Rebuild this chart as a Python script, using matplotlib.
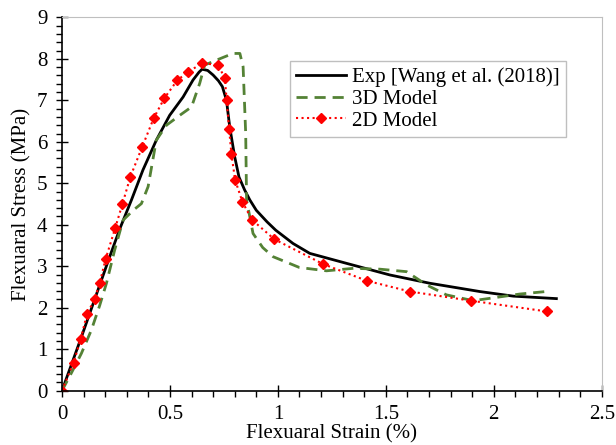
import matplotlib.pyplot as plt
from matplotlib.ticker import MultipleLocator

plt.rcParams["font.family"] = "Liberation Serif"

# Exp [Wang et al. (2018)]
exp_x = [0, 0.087, 0.175, 0.221, 0.27, 0.322, 0.375, 0.437, 0.499, 0.561, 0.607, 0.635, 0.649,
         0.675, 0.70, 0.725, 0.743, 0.762, 0.777, 0.80, 0.82, 0.846, 0.87, 0.90, 0.95, 0.99, 1.07, 1.148, 1.318,
         1.519, 1.704, 1.936, 2.09, 2.29]
exp_y = [0, 1.25, 2.55, 3.23, 3.93, 4.6, 5.32, 6.04, 6.64, 7.08, 7.49, 7.68, 7.75,
         7.72, 7.61, 7.47, 7.33, 7.0, 6.36, 5.64, 5.15, 4.84, 4.6, 4.35, 4.07, 3.87, 3.55, 3.31, 3.07,
         2.79, 2.59, 2.39, 2.28, 2.22]

# 3D Model
m3_x = [0, 0.043, 0.09, 0.136, 0.175, 0.206, 0.244, 0.283, 0.33, 0.368, 0.399,
        0.437, 0.484, 0.546, 0.60, 0.638, 0.661, 0.716, 0.792, 0.824, 0.839,
        0.851, 0.855, 0.885, 0.93, 0.978, 1.10, 1.225, 1.35, 1.472, 1.596, 1.689,
        1.781, 1.905, 2.013, 2.12, 2.26]
m3_y = [0, 0.42, 0.9, 1.46, 2.06, 2.59, 3.39, 4.11, 4.35, 4.51, 4.92,
        6.04, 6.40, 6.64, 6.84, 7.41, 7.85, 7.97, 8.13, 8.13, 7.81,
        6.2, 4.6, 3.79, 3.45, 3.23, 2.97, 2.89, 2.95, 2.93, 2.87, 2.55,
        2.31, 2.17, 2.25, 2.33, 2.40]

# 2D Model
m2_x = [0, 0.054, 0.087, 0.116, 0.152, 0.175, 0.202, 0.247, 0.28, 0.317, 0.371,
        0.425, 0.474, 0.535, 0.584, 0.647, 0.722, 0.754, 0.763, 0.774, 0.785,
        0.802, 0.836, 0.88, 0.984, 1.211, 1.412, 1.613, 1.894, 2.247]
m2_y = [0, 0.68, 1.25, 1.85, 2.21, 2.6, 3.17, 3.93, 4.5, 5.16, 5.87,
        6.57, 7.05, 7.49, 7.68, 7.89, 7.86, 7.54, 7.0, 6.32, 5.70,
        5.08, 4.55, 4.12, 3.65, 3.05, 2.65, 2.39, 2.17, 1.91]

fig = plt.figure(figsize=(6.16, 4.45), dpi=100)
ax = fig.add_axes([0.1006, 0.122, 0.8762, 0.839])

ax.plot(exp_x, exp_y, color="black", linewidth=2, label="Exp [Wang et al. (2018)]")
ax.plot(m3_x, m3_y, color="#548235", linewidth=2, linestyle=(0, (4, 2.5)), label="3D Model")
ax.plot(m2_x, m2_y, color="red", linewidth=1.5, linestyle=":", marker="D",
        markersize=5.5, label="2D Model")

ax.set_xlim(0, 2.5)
ax.set_ylim(0, 9)
ax.xaxis.set_minor_locator(MultipleLocator(0.1))
ax.yaxis.set_major_locator(MultipleLocator(1))
ax.yaxis.set_minor_locator(MultipleLocator(0.2))
ax.set_xticks([0, 0.5, 1, 1.5, 2, 2.5], ["0", "0.5", "1", "1.5", "2", "2.5"])
ax.tick_params(which="major", direction="inout", length=9, width=1, labelsize=15, pad=6)
ax.tick_params(which="minor", direction="out", length=4, width=1)

for s in ["top", "right"]:
    ax.spines[s].set_color("#BFBFBF")
for s in ["left", "bottom"]:
    ax.spines[s].set_linewidth(1.2)

ax.set_xlabel("Flexuaral Strain (%)", fontsize=15, labelpad=0)
ax.set_ylabel("Flexuaral Stress (MPa)", fontsize=15, labelpad=4)

leg = ax.legend(loc="upper left", bbox_to_anchor=(0.4223, 0.882), fontsize=15,
                frameon=True, fancybox=False, framealpha=1, edgecolor="#BFBFBF",
                handlelength=2.4, handletextpad=0.3, borderpad=0.3, labelspacing=0.1,
                borderaxespad=0)
leg.get_frame().set_linewidth(1)

fig.savefig("out.png", dpi=100)
